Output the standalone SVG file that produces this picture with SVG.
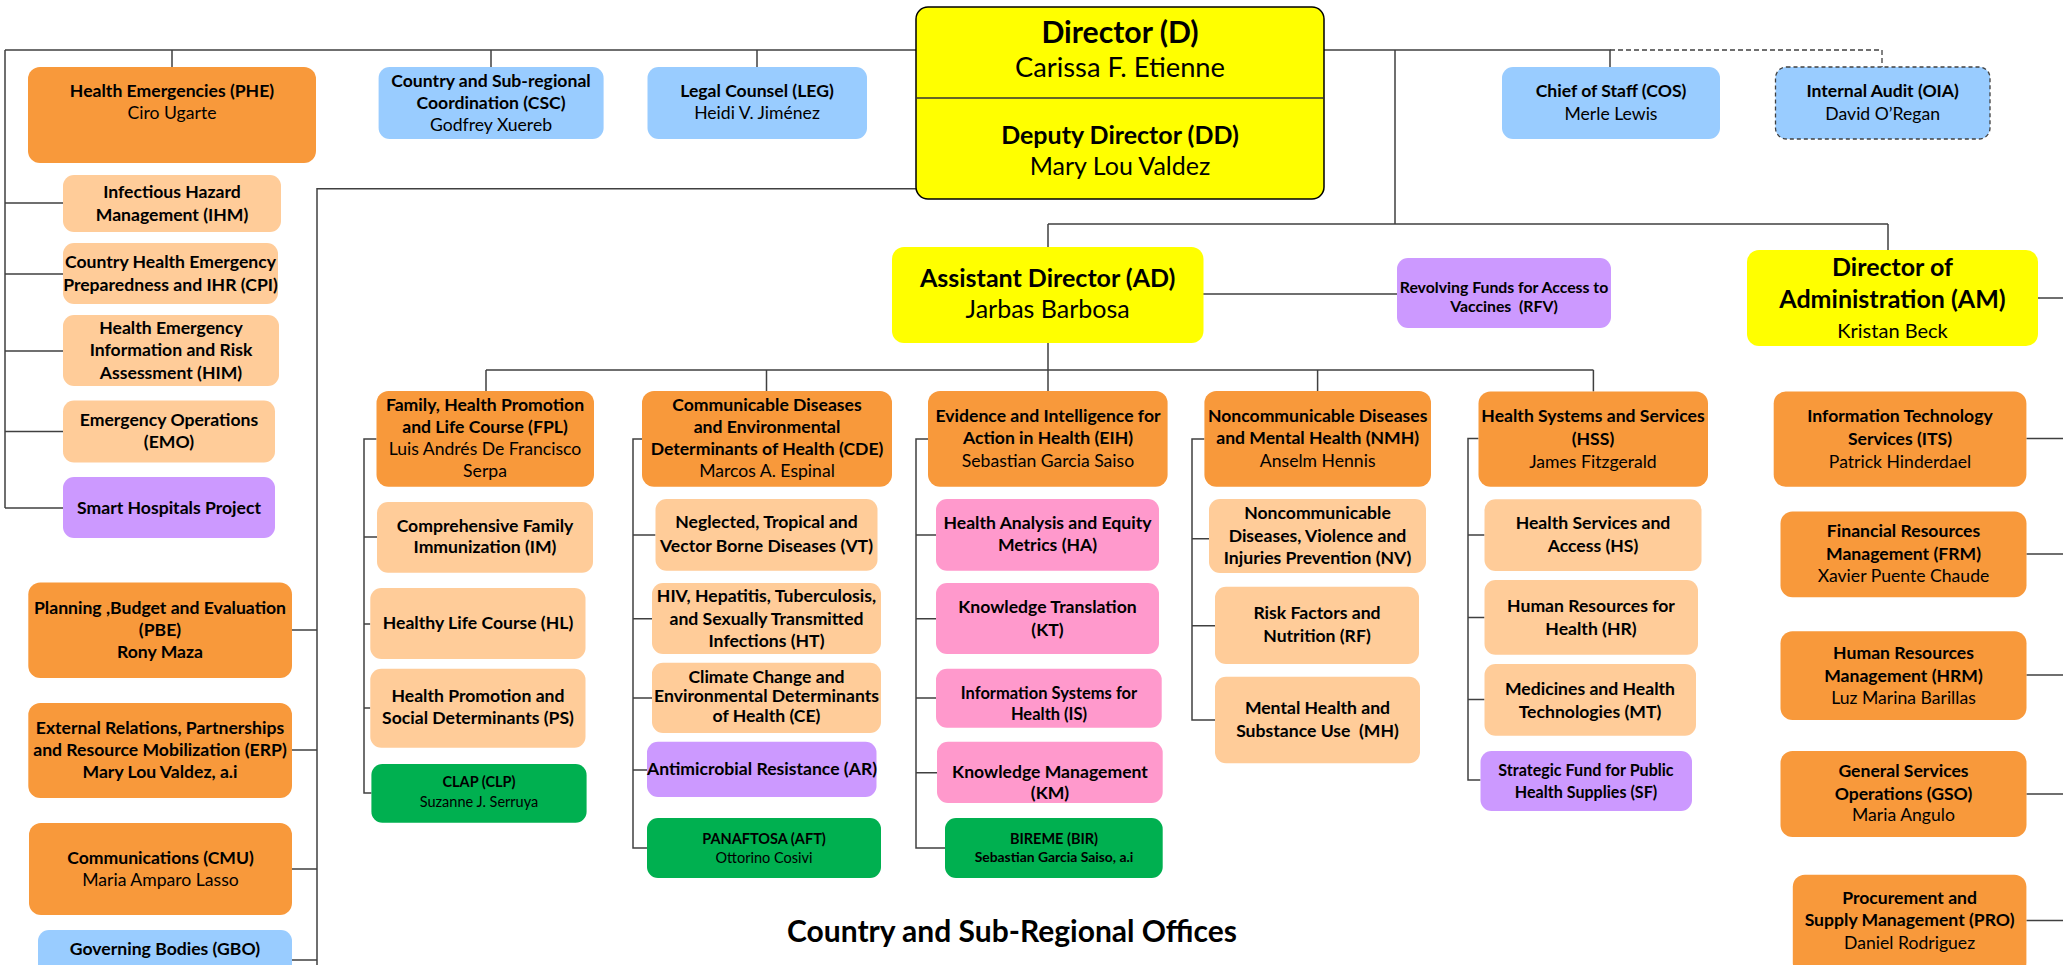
<svg xmlns="http://www.w3.org/2000/svg" width="2063" height="965" viewBox="0 0 2063 965">
<style>
.ln{fill:none;stroke:#404040;stroke-width:1.5}
.dash{fill:none;stroke:#404040;stroke-width:1.3;stroke-dasharray:5 3}
.or{fill:#F8993B}.pe{fill:#FFCC99}.bl{fill:#99CCFF}.ye{fill:#FFFF00}.pu{fill:#CC99FF}.pk{fill:#FF99CC}.gr{fill:#00B050}
text{font-family:Lato,'Liberation Sans',sans-serif;text-anchor:middle;fill:#000}
.t{font-weight:bold;font-size:17.6px}
.n{font-weight:normal;font-size:17.6px}
.s{font-weight:bold;font-size:14.5px}
.sn{font-weight:normal;font-size:14.5px}
.big{font-weight:bold;font-size:25px}
.bign{font-weight:normal;font-size:25px}
</style>
<rect width="2063" height="965" fill="#fff"/>
<g id="connectors">
<path class="ln" d="M5,50 H916 M5,50 V508 M5,203 H63 M5,274 H63 M5,351 H63 M5,431.5 H63 M5,508 H63"/>
<path class="ln" d="M172,50 V67 M491,50 V67 M757,50 V67"/>
<path class="ln" d="M916,188.7 H317 V965 M292,630 H317 M292,750 H317 M292,869 H317 M292,960 H317"/>
<path class="ln" d="M1324,50 H1610 V67"/>
<path class="dash" d="M1610,50 H1882 V67"/>
<path class="ln" d="M1395,50 V224 M1048,224 H1888 M1048,224 V247 M1888,224 V250"/>
<path class="ln" d="M1203,294 H1397 M1048,343 V370 M486,370 H1593.4 M486,370 V391 M766.5,370 V391 M1048,370 V391 M1317.6,370 V391 M1593.4,370 V391.6"/>
<path class="ln" d="M376.5,439 H364 V793 H371.4 M364,537 H377 M364,624 H370.3 M364,708 H370.3"/>
<path class="ln" d="M642,439 H633 V848 H647 M633,535 H655.5 M633,618.7 H652 M633,698 H652 M633,770 H647"/>
<path class="ln" d="M928,439 H916 V848 H945 M916,535 H936 M916,618.7 H936 M916,698 H936 M916,772.7 H937"/>
<path class="ln" d="M1204.4,439 H1192 V720 H1215 M1192,538.7 H1209 M1192,625.7 H1215"/>
<path class="ln" d="M1478.5,438.5 H1468 V780 H1480.5 M1468,535 H1484.5 M1468,617.6 H1484.5 M1468,699.4 H1484.5"/>
<path class="ln" d="M2038,298 H2063 M2026.4,438.5 H2063 M2026.4,554 H2063 M2026.4,675 H2063 M2026.4,794 H2063 M2026.4,920.5 H2063"/>
</g>

<g id="n-d">
<rect x="916" y="7" width="408" height="192" rx="12" class="ye" stroke="#000" stroke-width="1.5"/>
<line x1="916" y1="98" x2="1324" y2="98" stroke="#333" stroke-width="1.5"/>
<text x="1120" y="42.7" style="font-weight:bold;font-size:30.2px">Director (D)</text>
<text x="1120" y="77.3" style="font-size:27.3px">Carissa F. Etienne</text>
<text x="1120" y="144" class="big">Deputy Director (DD)</text>
<text x="1120" y="175" class="bign">Mary Lou Valdez</text>
</g>
<g id="n-phe"><rect x="28" y="67" width="288" height="96" rx="12" class="or"/>
<text x="172" y="96.7" class="t">Health Emergencies (PHE)</text><text x="172" y="119.3" class="n">Ciro Ugarte</text></g>
<g id="n-csc"><rect x="378.6" y="67" width="225" height="72" rx="11" class="bl"/>
<text x="491" y="86.7" class="t">Country and Sub-regional</text><text x="491" y="109.3" class="t">Coordination (CSC)</text><text x="491" y="131" class="n">Godfrey Xuereb</text></g>
<g id="n-leg"><rect x="647.5" y="67" width="219.5" height="72" rx="11" class="bl"/>
<text x="757" y="96.7" class="t">Legal Counsel (LEG)</text><text x="757" y="119.3" class="n">Heidi V. Jiménez</text></g>
<g id="n-cos"><rect x="1502" y="67" width="218" height="72" rx="11" class="bl"/>
<text x="1611" y="96.7" class="t">Chief of Staff (COS)</text><text x="1611" y="120" class="n">Merle Lewis</text></g>
<g id="n-oia"><rect x="1775.5" y="67" width="214.5" height="72" rx="11" class="bl" stroke="#404040" stroke-width="1.3" stroke-dasharray="4 3"/>
<text x="1882.7" y="96.7" class="t">Internal Audit (OIA)</text><text x="1882.7" y="120" class="n">David O’Regan</text></g>
<g id="n-ad"><rect x="892" y="247" width="311.5" height="96" rx="12" class="ye"/>
<text x="1047.7" y="286.7" class="big">Assistant Director (AD)</text><text x="1047.7" y="318.3" class="bign">Jarbas Barbosa</text></g>
<g id="n-rfv"><rect x="1397" y="258" width="214" height="70" rx="11" class="pu"/>
<text x="1504" y="292.7" class="s" style="font-size:15.8px">Revolving Funds for Access to</text><text x="1504" y="311.7" class="s" style="font-size:15.8px" xml:space="preserve">Vaccines  (RFV)</text></g>
<g id="n-am"><rect x="1747" y="250" width="291" height="96" rx="12" class="ye"/>
<text x="1892.5" y="276" class="big">Director of</text><text x="1892.5" y="308.3" class="big">Administration (AM)</text><text x="1892.5" y="338" class="n" style="font-size:20px">Kristan Beck</text></g>

<g id="n-ihm"><rect x="63" y="175" width="218" height="57" rx="11" class="pe"/>
<text x="172" y="198.3" class="t">Infectious Hazard</text><text x="172" y="221" class="t">Management (IHM)</text></g>
<g id="n-cpi"><rect x="63" y="243" width="215" height="61" rx="11" class="pe"/>
<text x="170.5" y="268.3" class="t">Country Health Emergency</text><text x="170.5" y="291" class="t">Preparedness and IHR (CPI)</text></g>
<g id="n-him"><rect x="63" y="315" width="216" height="71" rx="11" class="pe"/>
<text x="171" y="334" class="t">Health Emergency</text><text x="171" y="356" class="t">Information and Risk</text><text x="171" y="378.5" class="t">Assessment (HIM)</text></g>
<g id="n-emo"><rect x="63" y="400.5" width="212" height="62" rx="11" class="pe"/>
<text x="169" y="426" class="t">Emergency Operations</text><text x="169" y="448.4" class="t">(EMO)</text></g>
<g id="n-shp"><rect x="63" y="477" width="212" height="61" rx="11" class="pu"/>
<text x="169" y="514" class="t">Smart Hospitals Project</text></g>
<g id="n-pbe"><rect x="28.3" y="582.4" width="263.7" height="95.6" rx="12" class="or"/>
<text x="160" y="613.8" class="t">Planning ,Budget and Evaluation</text><text x="160" y="636" class="t">(PBE)</text><text x="160" y="658.4" class="t">Rony Maza</text></g>
<g id="n-erp"><rect x="28.3" y="703" width="263.7" height="95" rx="12" class="or"/>
<text x="160" y="733.8" class="t">External Relations, Partnerships</text><text x="160" y="756" class="t">and Resource Mobilization (ERP)</text><text x="160" y="778.4" class="t">Mary Lou Valdez, a.i</text></g>
<g id="n-cmu"><rect x="29" y="823" width="263" height="92" rx="12" class="or"/>
<text x="160.5" y="864" class="t">Communications (CMU)</text><text x="160.5" y="886" class="n">Maria Amparo Lasso</text></g>
<g id="n-gbo"><rect x="38" y="930" width="254" height="50" rx="11" class="bl"/>
<text x="165" y="955" class="t">Governing Bodies (GBO)</text></g>

<g id="n-fpl"><rect x="376.5" y="391" width="217.5" height="95.7" rx="12" class="or"/>
<text x="485" y="410.7" class="t">Family, Health Promotion</text><text x="485" y="432.7" class="t">and Life Course (FPL)</text><text x="485" y="455" class="n">Luis Andrés De Francisco</text><text x="485" y="477.3" class="n">Serpa</text></g>
<g id="n-im"><rect x="377" y="502" width="216" height="70.7" rx="11" class="pe"/>
<text x="485" y="531.7" class="t">Comprehensive Family</text><text x="485" y="553.3" class="t">Immunization (IM)</text></g>
<g id="n-hl"><rect x="370.3" y="588" width="215.2" height="71" rx="11" class="pe"/>
<text x="478" y="629.3" class="t">Healthy Life Course (HL)</text></g>
<g id="n-ps"><rect x="370.3" y="668.7" width="215.2" height="79" rx="11" class="pe"/>
<text x="478" y="702" class="t">Health Promotion and</text><text x="478" y="724.3" class="t">Social Determinants (PS)</text></g>
<g id="n-clp"><rect x="371.4" y="764" width="215.2" height="58.7" rx="11" class="gr"/>
<text x="479" y="787.3" class="s">CLAP (CLP)</text><text x="479" y="807.3" class="sn">Suzanne J. Serruya</text></g>

<g id="n-cde"><rect x="642" y="391" width="250" height="95.7" rx="12" class="or"/>
<text x="767" y="410.7" class="t">Communicable Diseases</text><text x="767" y="432.7" class="t">and Environmental</text><text x="767" y="455" class="t">Determinants of Health (CDE)</text><text x="767" y="477.3" class="n">Marcos A. Espinal</text></g>
<g id="n-vt"><rect x="655.5" y="499" width="222" height="71.7" rx="11" class="pe"/>
<text x="766.5" y="528.3" class="t">Neglected, Tropical and</text><text x="766.5" y="551.7" class="t">Vector Borne Diseases (VT)</text></g>
<g id="n-ht"><rect x="652" y="583" width="229" height="71" rx="11" class="pe"/>
<text x="766.5" y="601.7" class="t">HIV, Hepatitis, Tuberculosis,</text><text x="766.5" y="625" class="t">and Sexually Transmitted</text><text x="766.5" y="646.7" class="t">Infections (HT)</text></g>
<g id="n-ce"><rect x="652" y="662.7" width="229" height="70.3" rx="11" class="pe"/>
<text x="766.5" y="683.3" class="t">Climate Change and</text><text x="766.5" y="702.3" class="t">Environmental Determinants</text><text x="766.5" y="721.7" class="t">of Health (CE)</text></g>
<g id="n-ar"><rect x="647" y="741.7" width="229.5" height="55.3" rx="11" class="pu"/>
<text x="762" y="775" class="t">Antimicrobial Resistance (AR)</text></g>
<g id="n-aft"><rect x="647" y="818" width="234" height="60" rx="11" class="gr"/>
<text x="764" y="844" class="s">PANAFTOSA (AFT)</text><text x="764" y="862.7" class="sn">Ottorino Cosivi</text></g>

<g id="n-eih"><rect x="928" y="391" width="239.6" height="95.7" rx="12" class="or"/>
<text x="1048" y="421.7" class="t">Evidence and Intelligence for</text><text x="1048" y="444.3" class="t">Action in Health (EIH)</text><text x="1048" y="466.7" class="n">Sebastian Garcia Saiso</text></g>
<g id="n-ha"><rect x="936" y="499" width="223" height="71.7" rx="11" class="pk"/>
<text x="1047.5" y="528.7" class="t">Health Analysis and Equity</text><text x="1047.5" y="551.3" class="t">Metrics (HA)</text></g>
<g id="n-kt"><rect x="936" y="583" width="223" height="71" rx="11" class="pk"/>
<text x="1047.5" y="612.7" class="t">Knowledge Translation</text><text x="1047.5" y="635.7" class="t">(KT)</text></g>
<g id="n-is"><rect x="936" y="668.7" width="225.7" height="59" rx="11" class="pk"/>
<text x="1049" y="699" class="s" style="font-size:16.5px">Information Systems for</text><text x="1049" y="720" class="s" style="font-size:16.5px">Health (IS)</text></g>
<g id="n-km"><rect x="937" y="741.7" width="225.7" height="61.3" rx="11" class="pk"/>
<text x="1050" y="777.7" class="t">Knowledge Management</text><text x="1050" y="799" class="t">(KM)</text></g>
<g id="n-bir"><rect x="945" y="818" width="217.7" height="60" rx="11" class="gr"/>
<text x="1054" y="844" class="s">BIREME (BIR)</text><text x="1054" y="862" class="s" style="font-size:13.9px">Sebastian Garcia Saiso, a.i</text></g>

<g id="n-nmh"><rect x="1204.4" y="391" width="226.6" height="95.7" rx="12" class="or"/>
<text x="1317.7" y="421.7" class="t">Noncommunicable Diseases</text><text x="1317.7" y="444.3" class="t">and Mental Health (NMH)</text><text x="1317.7" y="466.7" class="n">Anselm Hennis</text></g>
<g id="n-nv"><rect x="1209" y="499" width="217" height="74" rx="11" class="pe"/>
<text x="1317.5" y="519.3" class="t">Noncommunicable</text><text x="1317.5" y="541.7" class="t">Diseases, Violence and</text><text x="1317.5" y="564.3" class="t">Injuries Prevention (NV)</text></g>
<g id="n-rf"><rect x="1215" y="586.7" width="204" height="77.3" rx="11" class="pe"/>
<text x="1317" y="619.3" class="t">Risk Factors and</text><text x="1317" y="641.7" class="t">Nutrition (RF)</text></g>
<g id="n-mh"><rect x="1215" y="676.7" width="205" height="86.6" rx="11" class="pe"/>
<text x="1317.5" y="714.3" class="t">Mental Health and</text><text x="1317.5" y="736.7" class="t" xml:space="preserve">Substance Use  (MH)</text></g>

<g id="n-hss"><rect x="1478.5" y="391.6" width="229.5" height="95.1" rx="12" class="or"/>
<text x="1593" y="422.3" class="t">Health Systems and Services</text><text x="1593" y="445.4" class="t">(HSS)</text><text x="1593" y="467.7" class="n">James Fitzgerald</text></g>
<g id="n-hs"><rect x="1484.5" y="499.3" width="217" height="71.7" rx="11" class="pe"/>
<text x="1593" y="529.3" class="t">Health Services and</text><text x="1593" y="552" class="t">Access (HS)</text></g>
<g id="n-hr"><rect x="1484.5" y="580" width="213.5" height="74.8" rx="11" class="pe"/>
<text x="1591" y="612.3" class="t">Human Resources for</text><text x="1591" y="634.6" class="t">Health (HR)</text></g>
<g id="n-mt"><rect x="1484.5" y="664" width="211.5" height="71.8" rx="11" class="pe"/>
<text x="1590" y="694.5" class="t">Medicines and Health</text><text x="1590" y="717.6" class="t">Technologies (MT)</text></g>
<g id="n-sf"><rect x="1480.5" y="751" width="211.5" height="60" rx="11" class="pu"/>
<text x="1586" y="776.3" class="s" style="font-size:16.1px">Strategic Fund for Public</text><text x="1586" y="797.8" class="s" style="font-size:16.1px">Health Supplies (SF)</text></g>

<g id="n-its"><rect x="1773.7" y="391.6" width="252.7" height="95.1" rx="12" class="or"/>
<text x="1900" y="422.3" class="t">Information Technology</text><text x="1900" y="445.4" class="t">Services (ITS)</text><text x="1900" y="467.7" class="n">Patrick Hinderdael</text></g>
<g id="n-frm"><rect x="1780.5" y="511.4" width="246" height="85.9" rx="12" class="or"/>
<text x="1903.5" y="537.4" class="t">Financial Resources</text><text x="1903.5" y="560" class="t">Management (FRM)</text><text x="1903.5" y="582" class="n">Xavier Puente Chaude</text></g>
<g id="n-hrm"><rect x="1780.5" y="631.3" width="246" height="88.7" rx="12" class="or"/>
<text x="1903.5" y="658.9" class="t">Human Resources</text><text x="1903.5" y="681.6" class="t">Management (HRM)</text><text x="1903.5" y="703.8" class="n">Luz Marina Barillas</text></g>
<g id="n-gso"><rect x="1780.5" y="751" width="246" height="86" rx="12" class="or"/>
<text x="1903.5" y="776.7" class="t">General Services</text><text x="1903.5" y="799.8" class="t">Operations (GSO)</text><text x="1903.5" y="821.3" class="n">Maria Angulo</text></g>
<g id="n-pro"><rect x="1792.8" y="874.7" width="233.6" height="100" rx="12" class="or"/>
<text x="1909.6" y="904.3" class="t">Procurement and</text><text x="1909.6" y="926.2" class="t">Supply Management (PRO)</text><text x="1909.6" y="948.5" class="n">Daniel Rodriguez</text></g>

<g id="title"><text x="1012" y="941.7" style="font-weight:bold;font-size:30px">Country and Sub-Regional Offices</text></g>
</svg>
